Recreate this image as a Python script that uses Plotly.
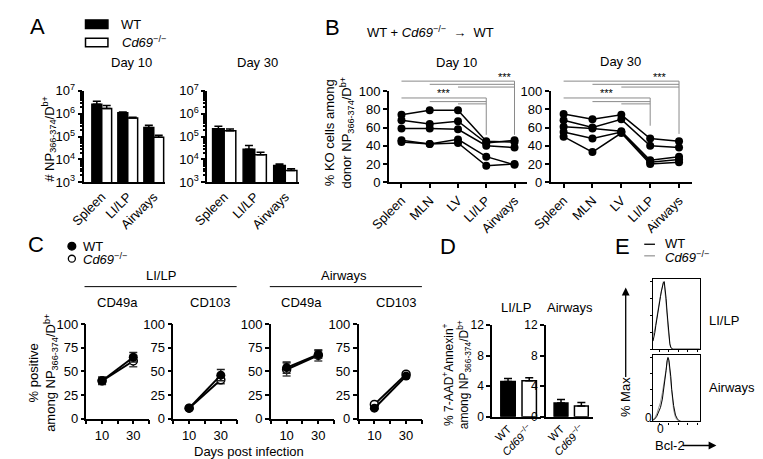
import plotly.graph_objects as go

W, H = 763, 459
FONT = "Arial, Liberation Sans, sans-serif"


def dx(a, b):
    return [a / W, b / W]


def dy(top, bottom):
    return [1 - bottom / H, 1 - top / H]


# ---------------- DATA ----------------
# Panel A
A_cats = ["Spleen", "LI/LP", "Airways"]
A_d10_wt = [2.6e6, 1.1e6, 2.5e5]
A_d10_wt_err = [9e5, 1e5, 6e4]
A_d10_ko = [1.7e6, 6.5e5, 9.3e4]
A_d10_ko_err = [6e5, 5e4, 2.2e4]
A_d30_wt = [2.2e5, 2.8e4, 5.4e3]
A_d30_wt_err = [6e4, 1.3e4, 9e2]
A_d30_ko = [1.8e5, 1.6e4, 3.3e3]
A_d30_ko_err = [3.5e4, 4.5e3, 6e2]
A_yticks = [1e3, 1e4, 1e5, 1e6, 1e7]
A_yticktext = ["10<sup>3</sup>", "10<sup>4</sup>", "10<sup>5</sup>", "10<sup>6</sup>", "10<sup>7</sup>"]

# Panel B (each list = one mouse across tissues)
B_cats = ["Spleen", "MLN", "LV", "LI/LP", "Airways"]
B_d10 = [
    [74, 79, 79, 45, 44],
    [68, 64, 67, 43, 46],
    [59, 59, 58, 40, 38],
    [46, 42, 47, 28, 19],
    [44, 42, 43, 18, 20],
]
B_d30 = [
    [75, 69, 74, 48, 45],
    [68, 60, 69, 40, 38],
    [61, 59, 56, 24, 28],
    [55, 48, 55, 22, 25],
    [50, 33, 54, 20, 22],
]
B_bracket_starts = [0, 1, 2]
B_top_levels = [111, 107.5, 104.5]
B_low_levels = [92.5, 88.5, 86]
B_d10_vbottom = [52, 52]      # LI/LP, Airways
B_d30_vbottom = [62, 53]

# Panel C
C_days = [10, 30]
C_lilp_cd49a_wt = [40, 65]
C_lilp_cd49a_wt_err = [4, 5]
C_lilp_cd49a_ko = [40, 61]
C_lilp_cd49a_ko_err = [3, 6]
C_lilp_cd103_wt = [11, 46]
C_lilp_cd103_wt_err = [1, 6]
C_lilp_cd103_ko = [11, 41]
C_lilp_cd103_ko_err = [1, 4]
C_air_cd49a_wt = [54, 68]
C_air_cd49a_wt_err = [6, 4]
C_air_cd49a_ko = [52, 67]
C_air_cd49a_ko_err = [7, 6]
C_air_cd103_wt = [11, 45]
C_air_cd103_wt_err = [1, 2]
C_air_cd103_ko = [15, 47]
C_air_cd103_ko_err = [1, 2]

# Panel D
D_groups = ["WT", "<i>Cd69</i><sup>−/−</sup>"]
D_lilp = [4.6, 4.7]
D_lilp_err = [0.4, 0.4]
D_air = [1.8, 1.4]
D_air_err = [0.45, 0.45]

# Panel E histograms (Bcl-2, % of max)
E_top_x = [0, 2, 4, 6, 8, 10, 12, 14, 16, 18, 20, 22, 24, 26, 28, 30, 32, 34, 36, 38, 40, 42, 100]
E_top_wt = [12, 18, 25, 35, 45, 55, 62, 70, 78, 86, 93, 98, 100, 90, 75, 55, 35, 18, 8, 3, 1, 0, 0]
E_top_ko = [20, 24, 30, 38, 48, 57, 65, 72, 80, 88, 96, 100, 97, 85, 70, 52, 32, 16, 7, 2, 1, 0, 0]
E_bot_x = [0, 4, 8, 12, 16, 20, 24, 28, 30, 32, 34, 36, 38, 40, 44, 48, 52, 56, 60, 100]
E_bot_wt = [2, 4, 8, 14, 22, 35, 55, 80, 95, 100, 96, 85, 70, 50, 25, 10, 4, 1, 0, 0]
E_bot_ko = [3, 6, 12, 20, 30, 45, 65, 88, 98, 100, 92, 78, 60, 40, 18, 6, 2, 0, 0, 0]

# ---------------- FIGURE ----------------
fig = go.Figure()
TF = dict(size=13, family=FONT, color="black")


def axis(dom, **kw):
    d = dict(domain=dom, showline=True, linecolor="black", linewidth=1.5,
             ticks="outside", ticklen=4, tickwidth=1.5, tickcolor="black",
             showgrid=False, zeroline=False, tickfont=TF, fixedrange=True)
    d.update(kw)
    return d


def err(arr):
    return dict(type="data", array=arr, arrayminus=[0] * len(arr), symmetric=False,
                color="black", thickness=1.5, width=4)


# Panel A bars
for (wt, wte, ko, koe, n) in [(A_d10_wt, A_d10_wt_err, A_d10_ko, A_d10_ko_err, ""),
                               (A_d30_wt, A_d30_wt_err, A_d30_ko, A_d30_ko_err, "2")]:
    fig.add_trace(go.Bar(x=A_cats, y=wt, width=0.38, offset=-0.38, error_y=err(wte),
                         marker=dict(color="black", line=dict(color="black", width=1.5)),
                         xaxis="x" + n, yaxis="y" + n, showlegend=False))
    fig.add_trace(go.Bar(x=A_cats, y=ko, width=0.38, offset=0, error_y=err(koe),
                         marker=dict(color="white", line=dict(color="black", width=1.5)),
                         xaxis="x" + n, yaxis="y" + n, showlegend=False))

# Panel B lines
for data, n in [(B_d10, "3"), (B_d30, "4")]:
    for mouse in data:
        fig.add_trace(go.Scatter(x=list(range(len(B_cats))), y=mouse, mode="lines+markers",
                                 line=dict(color="black", width=1.5),
                                 marker=dict(color="black", size=8),
                                 xaxis="x" + n, yaxis="y" + n, showlegend=False, cliponaxis=False))

# Panel B significance brackets (overlay axes)
for n, vb in [("13", B_d10_vbottom), ("14", B_d30_vbottom)]:
    for levels, end, bottom in [(B_top_levels, 4, vb[1]), (B_low_levels, 3, vb[0])]:
        for s, lv in zip(B_bracket_starts, levels):
            fig.add_trace(go.Scatter(x=[s, end], y=[lv, lv], mode="lines",
                                     line=dict(color="#8a8a8a", width=1),
                                     xaxis="x" + n, yaxis="y" + n, showlegend=False))
        fig.add_trace(go.Scatter(x=[end, end], y=[levels[0], bottom], mode="lines",
                                 line=dict(color="#8a8a8a", width=1),
                                 xaxis="x" + n, yaxis="y" + n, showlegend=False))

# Panel C
C_sets = [
    (C_lilp_cd49a_wt, C_lilp_cd49a_wt_err, C_lilp_cd49a_ko, C_lilp_cd49a_ko_err, "5"),
    (C_lilp_cd103_wt, C_lilp_cd103_wt_err, C_lilp_cd103_ko, C_lilp_cd103_ko_err, "6"),
    (C_air_cd49a_wt, C_air_cd49a_wt_err, C_air_cd49a_ko, C_air_cd49a_ko_err, "7"),
    (C_air_cd103_wt, C_air_cd103_wt_err, C_air_cd103_ko, C_air_cd103_ko_err, "8"),
]
for wt, wte, ko, koe, n in C_sets:
    fig.add_trace(go.Scatter(x=C_days, y=ko, mode="lines+markers",
                             error_y=dict(type="data", array=koe, color="#444", thickness=1.5, width=4),
                             line=dict(color="black", width=2),
                             marker=dict(color="white", size=8, line=dict(color="black", width=1.5)),
                             xaxis="x" + n, yaxis="y" + n, showlegend=False, cliponaxis=False))
    fig.add_trace(go.Scatter(x=C_days, y=wt, mode="lines+markers",
                             error_y=dict(type="data", array=wte, color="#222", thickness=1.5, width=4),
                             line=dict(color="black", width=2),
                             marker=dict(color="black", size=9),
                             xaxis="x" + n, yaxis="y" + n, showlegend=False, cliponaxis=False))

# Panel D
for vals, e, n in [(D_lilp, D_lilp_err, "9"), (D_air, D_air_err, "10")]:
    fig.add_trace(go.Bar(x=[0, 1], y=vals, width=0.68, error_y=err(e),
                         marker=dict(color=["black", "white"], line=dict(color="black", width=1.5)),
                         xaxis="x" + n, yaxis="y" + n, showlegend=False))

# Panel E
for xs, wt, ko, n in [(E_top_x, E_top_wt, E_top_ko, "11"), (E_bot_x, E_bot_wt, E_bot_ko, "12")]:
    fig.add_trace(go.Scatter(x=xs, y=ko, mode="lines", line=dict(color="#9a9a9a", width=1),
                             xaxis="x" + n, yaxis="y" + n, showlegend=False))
    fig.add_trace(go.Scatter(x=xs, y=wt, mode="lines", line=dict(color="black", width=1),
                             xaxis="x" + n, yaxis="y" + n, showlegend=False))

# ---------------- AXES ----------------
lay = {}
A_ydom = dy(76.7, 171.7)
for n, xd, rng in [("", dx(58, 142), [-0.7, 2.45]), ("2", dx(185, 279), [-0.55, 2.45])]:
    lay["xaxis" + n] = axis(xd, anchor="y" + n, range=rng, tickangle=-45, ticks="",
                            type="category")
    lay["yaxis" + n] = axis(A_ydom, anchor="x" + n, type="log", range=[3, 7],
                            tickvals=A_yticks, ticktext=A_yticktext, linewidth=2,
                            minor=dict(ticks="outside", ticklen=2, tickcolor="black", dtick="D1"))

B_ydom = dy(77, 171.5)
B_ovdom = dy(171.5 - 125 * 0.945, 171.5)
for n, ov, xd in [("3", "13", dx(371, 513)), ("4", "14", dx(537, 682))]:
    lay["xaxis" + n] = axis(xd, anchor="y" + n, range=[-0.45, 4.45], tickangle=-45,
                            tickvals=list(range(5)), ticktext=B_cats)
    lay["yaxis" + n] = axis(B_ydom, anchor="x" + n, range=[0, 100],
                            tickvals=[0, 20, 40, 60, 80, 100])
    lay["xaxis" + ov] = dict(domain=xd, range=[-0.45, 4.45], visible=False, anchor="y" + ov,
                             fixedrange=True)
    lay["yaxis" + ov] = dict(domain=B_ovdom, range=[0, 125], visible=False, anchor="x" + ov,
                             fixedrange=True)

C_ydom = dy(319, 417)
for n, xd in [("5", dx(61, 125)), ("6", dx(150, 215)), ("7", dx(250, 315)), ("8", dx(340, 405))]:
    lay["xaxis" + n] = axis(xd, anchor="y" + n, range=[0, 40],
                            tickvals=[0, 10, 20, 30, 40], ticktext=["", "10", "", "30", ""])
    lay["yaxis" + n] = axis(C_ydom, anchor="x" + n, range=[0, 100],
                            tickvals=[0, 25, 50, 75, 100])

D_ydom = dy(320, 415)
for n, xd in [("9", dx(477, 527)), ("10", dx(532, 580))]:
    lay["xaxis" + n] = axis(xd, anchor="y" + n, range=[-0.75, 1.55], tickangle=-45,
                            tickvals=[0, 1], ticktext=D_groups, ticks="",
                            tickfont=dict(size=11, family=FONT, color="black"))
    lay["yaxis" + n] = axis(D_ydom, anchor="x" + n, range=[0, 12], tickvals=[0, 4, 8, 12],
                            tickfont=dict(size=12, family=FONT, color="black"))

for n, yd in [("11", dy(272, 345)), ("12", dy(351, 420))]:
    lay["xaxis" + n] = axis(dx(642, 690), anchor="y" + n, range=[0, 100], mirror=True,
                            linewidth=1.2, ticklen=2, tickwidth=1,
                            tickvals=[14, 34, 54, 74, 94], showticklabels=False)
    lay["yaxis" + n] = axis(yd, anchor="x" + n, range=[0, 104], mirror=True,
                            linewidth=1.2, ticklen=2, tickwidth=1,
                            tickvals=[0, 25, 50, 75, 100], showticklabels=False)


# ---------------- ANNOTATIONS ----------------
def ann(text, x, y, size=13, xanchor="center", yanchor="middle", angle=0):
    return dict(text=text, x=x / W, y=1 - y / H, xref="paper", yref="paper", showarrow=False,
                font=dict(size=size, family=FONT, color="black"), xanchor=xanchor,
                yanchor=yanchor, textangle=angle)


NP = "NP<sub>366-374</sub>/D<sup>b+</sup>"
KO = "<i>Cd69</i><sup>−/−</sup>"
anns = [
    ann("A", 1, 10, size=22, xanchor="left"),
    ann("B", 304, 11, size=22, xanchor="left"),
    ann("C", -1, 236, size=22, xanchor="left"),
    ann("D", 422, 238, size=22, xanchor="left"),
    ann("E", 601, 238, size=22, xanchor="left"),
    # A
    ann("WT", 94, 8, xanchor="left"),
    ann(KO, 95, 26, xanchor="left"),
    ann("Day 10", 107, 47),
    ann("Day 30", 236, 47),
    ann("# " + NP, 23, 126, angle=-90),
    # B
    ann("WT + " + KO + "  →  WT", 347, 16, xanchor="left"),
    ann("Day 10", 440, 47),
    ann("Day 30", 609, 46),
    ann("% KO cells among<br>donor " + NP, 320, 120, angle=-90),
    # C
    ann("WT", 55, 238, xanchor="left"),
    ann(KO, 55, 251, xanchor="left"),
    ann("LI/LP", 137, 268),
    ann("Airways", 325, 268),
    ann("CD49a", 93, 296),
    ann("CD103", 188, 296),
    ann("CD49a", 282, 296),
    ann("CD103", 378, 296),
    ann("Days post infection", 228, 451),
    ann("% positive<br>among " + NP, 17, 370, angle=-90),
    # D
    ann("LI/LP", 502, 302),
    ann("Airways", 557, 302),
    ann("% 7-AAD<sup>+</sup>Annexin<sup>+</sup><br>among " + NP, 440, 372, size=12, angle=-90),
    # E
    ann("WT", 652, 235, xanchor="left"),
    ann(KO, 652, 249, xanchor="left"),
    ann("LI/LP", 697, 315, xanchor="left"),
    ann("Airways", 697, 385, xanchor="left"),
    ann("% Max", 614, 395, angle=-90),
    ann("0", 637, 416, size=12),
    ann("0", 650, 428, size=12),
    ann("Bcl-2", 642, 445, xanchor="left"),
]
# significance stars on bracket axes
for ov, xs in [("13", [3.65, 1.52]), ("14", [3.34, 1.49])]:
    for xv, yv in zip(xs, [116, 98.5]):
        anns.append(dict(text="***", x=xv, y=yv, xref="x" + ov, yref="y" + ov, showarrow=False,
                         font=dict(size=11, family=FONT, color="black")))
# arrows in E
anns.append(dict(x=614 / W, y=1 - 281 / H, xref="paper", yref="paper", ax=0, ay=91,
                 axref="pixel", ayref="pixel", text="", showarrow=True,
                 arrowhead=2, arrowsize=1.2, arrowwidth=1.3, arrowcolor="black"))
anns.append(dict(x=707 / W, y=1 - 445 / H, xref="paper", yref="paper", ax=-35, ay=0,
                 axref="pixel", ayref="pixel", text="", showarrow=True,
                 arrowhead=2, arrowsize=1.2, arrowwidth=1.3, arrowcolor="black"))


# ---------------- SHAPES ----------------
def rect(x0, y0, x1, y1, fill, lw=1.5):
    return dict(type="rect", xref="paper", yref="paper", x0=x0 / W, x1=x1 / W,
                y0=1 - y1 / H, y1=1 - y0 / H, fillcolor=fill,
                line=dict(color="black", width=lw))


def hline(x0, x1, y, color="black", w=1):
    return dict(type="line", xref="paper", yref="paper", x0=x0 / W, x1=x1 / W,
                y0=1 - y / H, y1=1 - y / H, line=dict(color=color, width=w))


def circ(cx, cy, r, fill):
    return dict(type="circle", xref="paper", yref="paper", x0=(cx - r) / W, x1=(cx + r) / W,
                y0=1 - (cy + r) / H, y1=1 - (cy - r) / H, fillcolor=fill,
                line=dict(color="black", width=1.3))


shapes = [
    rect(60, 3, 83, 12, "black"),
    rect(60, 22, 83, 31, "white"),
    hline(59, 215, 280),
    hline(249, 405, 280),
    circ(46, 238, 4, "black"),
    circ(46, 251, 3.6, "white"),
    hline(633, 644, 236, "black", 1.3),
    hline(633, 644, 248, "#9a9a9a", 1.3),
]

fig.update_layout(
    width=W, height=H, margin=dict(l=0, r=0, t=0, b=0),
    paper_bgcolor="white", plot_bgcolor="rgba(0,0,0,0)",
    barmode="overlay", showlegend=False,
    font=dict(family=FONT, size=13, color="black"),
    annotations=anns, shapes=shapes, **lay,
)

fig.write_html("out.html")
